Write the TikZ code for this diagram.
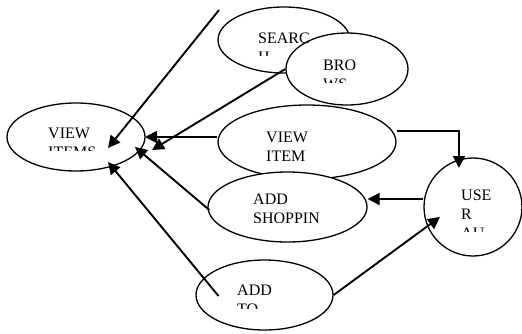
\documentclass[tikz,border=0pt]{standalone}
\usepackage{fontspec}
\setmainfont{Liberation Serif}
\usetikzlibrary{arrows.meta,shapes.geometric}

\begin{document}
\begin{tikzpicture}[x=1pt,y=-1pt,
  usecase/.style={draw=black, fill=white, ellipse, line width=1.3pt, inner sep=0pt},
  lbl/.style={anchor=north west, inner sep=0pt, align=left, font=\fontsize{16}{19}\selectfont},
  link/.style={line width=1.9pt, -{Triangle[length=12pt,width=12pt]}}]
\useasboundingbox (0,0) rectangle (522,333);
\node[usecase, minimum width=132pt, minimum height=66pt] (search) at (284,40) {};
\node[usecase, minimum width=122pt, minimum height=72pt] (brows) at (347,69) {};
\node[usecase, minimum width=178pt, minimum height=74pt] (viewitem) at (307,142) {};
\node[usecase, minimum width=159pt, minimum height=70pt] (addshop) at (287.5,207) {};
\node[usecase, minimum width=138pt, minimum height=68pt] (items) at (76,137) {};
\node[usecase, minimum width=98pt, minimum height=98pt] (user) at (473,207) {};
\node[usecase, minimum width=137pt, minimum height=70pt] (addto) at (264.5,295) {};
\begin{scope}
\clip (0,0) rectangle (522,150);
\node[lbl] (itemsT) at (48,128) {VIEW\\ITEMS};
\end{scope}
\begin{scope}
\clip (0,0) rectangle (522,55);
\node[lbl] (searchT) at (258,33) {SEARC\\H};
\end{scope}
\begin{scope}
\clip (0,0) rectangle (522,82);
\node[lbl] (browsT) at (323,60) {BRO\\WS};
\end{scope}
\node[lbl] (viewitemT) at (266,132) {VIEW\\ITEM};
\begin{scope}
\clip (0,0) rectangle (522,222);
\node[lbl] (addshopT) at (253,194) {ADD\\SHOPPIN};
\end{scope}
\begin{scope}
\clip (0,0) rectangle (522,231);
\node[lbl] (userT) at (461,190) {USE\\R\\AU};
\end{scope}
\begin{scope}
\clip (0,0) rectangle (522,308);
\node[lbl] (addtoT) at (237,285) {ADD\\TO};
\end{scope}
\coordinate (top) at (219,10);
\draw[link] (top) -- ([shift={(32,11)}]items.center);
\draw[link] (brows.west) -- ([shift={(76,13)}]items.center);
\draw[link] ([shift={(0,-5)}]viewitem.west) -- ([shift={(69,0)}]items.center);
\draw[link] ([shift={(2,3)}]addshop.west) -- ([shift={(59,10)}]items.center);
\draw[link] ([shift={(-46,1)}]addto.center) -- ([shift={(32,25)}]items.center);
\draw[link] ([shift={(0,-11)}]viewitem.east) -| ([shift={(-14,-39)}]user.center);
\draw[link] ([shift={(0,-8)}]user.west) -- ([shift={(0,-8)}]addshop.east);
\draw[link] (addto.east) -- ([shift={(-33,10)}]user.center);
\end{tikzpicture}
\end{document}
